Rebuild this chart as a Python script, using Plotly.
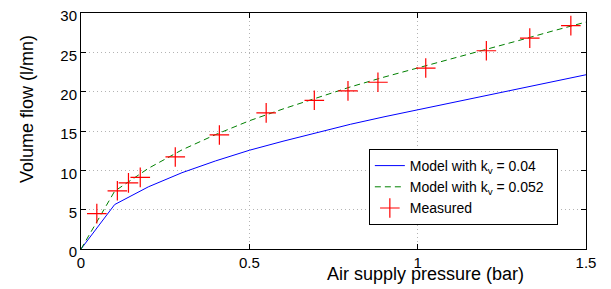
import plotly.graph_objects as go

# Model curves (sampled pressures, bar)
model_p = [0.0, 0.1, 0.2, 0.3, 0.4, 0.5, 0.6, 0.7, 0.8, 0.9, 1.0, 1.1, 1.2, 1.3, 1.4, 1.5]
model_kv004 = [0.0, 5.65, 7.9, 9.7, 11.2, 12.55, 13.7, 14.8, 15.85, 16.8, 17.7, 18.6, 19.5, 20.4, 21.3, 22.15]
model_kv0052 = [0.0, 7.35, 10.25, 12.6, 14.55, 16.3, 17.8, 19.25, 20.6, 21.85, 23.0, 24.2, 25.35, 26.5, 27.7, 28.85]

# Measured points
meas_p = [0.047, 0.108, 0.141, 0.176, 0.280, 0.411, 0.550, 0.693, 0.793, 0.882, 1.024, 1.204, 1.333, 1.455]
meas_q = [4.5, 7.4, 8.4, 9.1, 11.7, 14.5, 17.3, 18.9, 20.1, 21.2, 23.0, 25.2, 26.8, 28.4]

x_ticks = [0, 0.5, 1, 1.5]
x_tick_labels = ["0", "0.5", "1", "1.5"]
y_ticks = [0, 5, 10, 15, 20, 25, 30]

FONT = "Arial, Liberation Sans, Helvetica, sans-serif"

fig = go.Figure()
fig.add_trace(go.Scatter(x=model_p, y=model_kv004, mode="lines",
                         line=dict(color="#0000ff", width=1),
                         name="Model with k<sub>v</sub> = 0.04"))
fig.add_trace(go.Scatter(x=model_p, y=model_kv0052, mode="lines",
                         line=dict(color="#008000", width=1, dash="6px,4px"),
                         name="Model with k<sub>v</sub> = 0.052&nbsp;&nbsp;"))
fig.add_trace(go.Scatter(x=meas_p, y=meas_q, mode="markers",
                         marker=dict(symbol="cross-thin", size=14,
                                     line=dict(color="#ff0000", width=1.2)),
                         name="Measured"))

top = 5
bottom = 48
plot_h = 289 - top - bottom

fig.update_layout(
    width=611, height=289,
    margin=dict(l=73, r=33, t=top, b=bottom),
    paper_bgcolor="white", plot_bgcolor="white",
    font=dict(family=FONT, size=15, color="black"),
    showlegend=True,
    legend=dict(x=0.570, y=(241 - 141) / plot_h, xanchor="left", yanchor="top",
                bgcolor="white", bordercolor="black", borderwidth=1,
                font=dict(size=14), tracegroupgap=0, itemwidth=30),
    xaxis=dict(range=[0, 1.5], tickvals=x_ticks, ticktext=x_tick_labels,
               showline=True, linecolor="black", linewidth=1, mirror="ticks",
               ticks="inside", ticklen=5, tickcolor="black",
               showgrid=True, gridcolor="#b4b4b4", griddash="1px,3px", gridwidth=1,
               zeroline=False, tickfont=dict(size=15), automargin=False,
               ticklabeloverflow="allow"),
    yaxis=dict(range=[0, 30], tickvals=y_ticks,
               showline=True, linecolor="black", linewidth=1, mirror="ticks",
               ticks="inside", ticklen=5, tickcolor="black",
               showgrid=True, gridcolor="#b4b4b4", griddash="1px,3px", gridwidth=1,
               zeroline=False, tickfont=dict(size=15), automargin=False,
               ticklabeloverflow="allow", ticklabelshift=3),
    annotations=[
        dict(text="Air supply pressure (bar)", xref="paper", yref="paper",
             x=(425.5 - 81) / 505, y=-(274 - 249) / plot_h, xanchor="center", yanchor="middle",
             showarrow=False, font=dict(size=18)),
        dict(text="Volume flow (l/mn)", xref="paper", yref="paper",
             x=-(81 - 27) / 505, y=(241 - 101) / plot_h, xanchor="center", yanchor="middle",
             textangle=-90, showarrow=False, font=dict(size=18)),
    ],
)

fig.write_html("out.html")
